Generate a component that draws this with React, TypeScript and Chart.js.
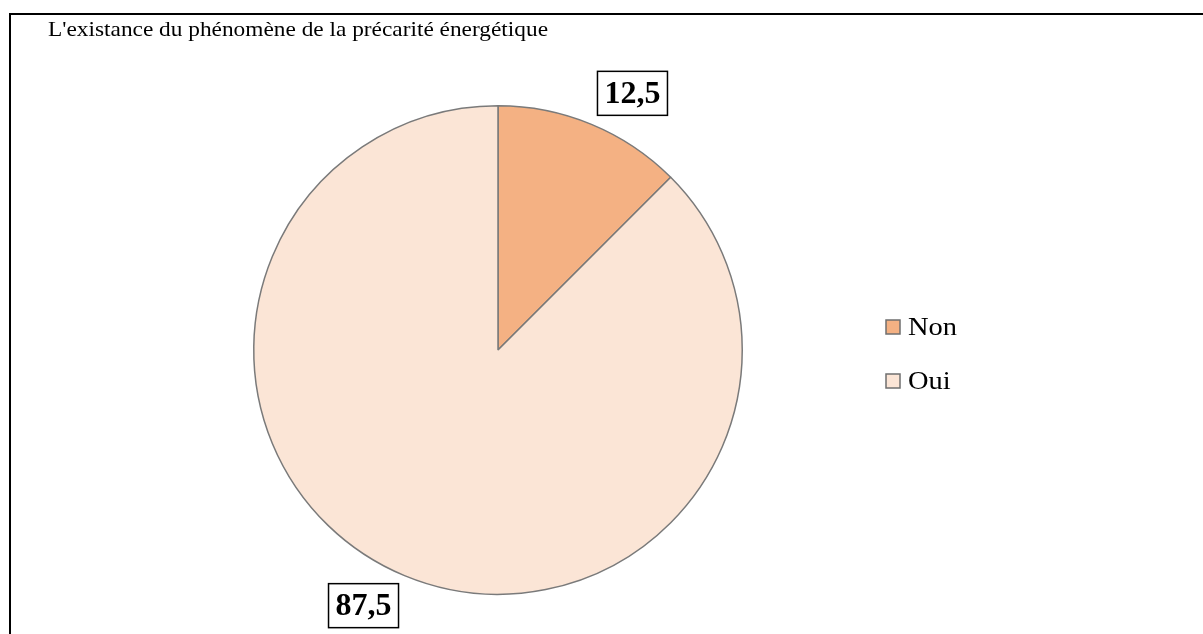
import React, { useEffect, useRef } from "react";
import { Chart, registerables } from "chart.js";

Chart.register(...registerables);

const categories = ["Non", "Oui"];
const values = [12.5, 87.5];
const valueLabels = ["12,5", "87,5"];
const colors = ["#F4B183", "#FBE5D6"];
const titleText = "L'existance du phénomène de la précarité énergétique";

const SERIF = "'Liberation Serif', 'Times New Roman', serif";

function stretchedText(ctx: any, txt: string, x: number, y: number, sx: number) {
  ctx.save();
  ctx.translate(x, y);
  ctx.scale(sx, 1);
  ctx.fillText(txt, 0, 0);
  ctx.restore();
}

const decorPlugin = {
  id: "decor",
  beforeDraw(chart: any) {
    const ctx = chart.ctx;
    ctx.save();
    ctx.fillStyle = "#ffffff";
    ctx.fillRect(0, 0, chart.width, chart.height);
    ctx.fillStyle = "#000000";
    ctx.fillRect(9, 13, chart.width - 9, 2);
    ctx.fillRect(9, 13, 2, chart.height - 13);
    ctx.font = "22px " + SERIF;
    ctx.textBaseline = "alphabetic";
    ctx.textAlign = "left";
    const tw = ctx.measureText(titleText).width;
    stretchedText(ctx, titleText, 48, 36, 500 / tw);
    ctx.restore();
  },
  afterDraw(chart: any) {
    const ctx = chart.ctx;
    const meta = chart.getDatasetMeta(0);
    ctx.save();
    // legend
    ctx.font = "26px " + SERIF;
    ctx.textBaseline = "middle";
    ctx.textAlign = "left";
    const sx = 49 / ctx.measureText(categories[0]).width;
    categories.forEach((c, i) => {
      const y = 327 + i * 54;
      ctx.fillStyle = colors[i];
      ctx.fillRect(886, y - 7, 14, 14);
      ctx.strokeStyle = "#6f6f6f";
      ctx.lineWidth = 1.5;
      ctx.strokeRect(886, y - 7, 14, 14);
      ctx.fillStyle = "#000";
      stretchedText(ctx, c, 908, y + 1, sx);
    });
    // data labels
    ctx.font = "bold 32px " + SERIF;
    meta.data.forEach((arc: any, i: number) => {
      const mid = (arc.startAngle + arc.endAngle) / 2;
      const ex = arc.x + Math.cos(mid) * arc.outerRadius;
      const ey = arc.y + Math.sin(mid) * arc.outerRadius;
      const txt = valueLabels[i];
      const tw = ctx.measureText(txt).width;
      const bw = tw + 14;
      const bh = 44;
      const dx = Math.cos(mid) >= 0 ? 1 : -1;
      const dy = Math.sin(mid) >= 0 ? 1 : -1;
      const cx = dx > 0 ? ex + 6 : ex - 6 - bw;
      const cy = dy > 0 ? ey + 8 : ey - 9 - bh;
      ctx.fillStyle = "#fff";
      ctx.fillRect(cx, cy, bw, bh);
      ctx.strokeStyle = "#000";
      ctx.lineWidth = 1.5;
      ctx.strokeRect(cx, cy, bw, bh);
      ctx.fillStyle = "#000";
      ctx.textAlign = "center";
      ctx.textBaseline = "middle";
      ctx.fillText(txt, cx + bw / 2, cy + bh / 2 + 1);
    });
    ctx.restore();
  },
};

export default function App() {
  const ref = useRef<HTMLCanvasElement>(null);
  useEffect(() => {
    document.body.style.margin = "0";
    const chart = new Chart(ref.current as HTMLCanvasElement, {
      type: "pie",
      data: {
        labels: categories,
        datasets: [
          {
            data: values,
            backgroundColor: colors,
            borderColor: "#7a7a7a",
            borderWidth: 1.5,
          },
        ],
      },
      options: {
        animation: false,
        responsive: false,
        layout: { padding: { top: 105, bottom: 39, left: 253, right: 460 } },
        plugins: {
          legend: { display: false },
          tooltip: { enabled: false },
          title: { display: false },
        },
      },
      plugins: [decorPlugin],
    });
    return () => chart.destroy();
  }, []);
  return (
    <div style={{ width: 1203, height: 634 }}>
      <canvas ref={ref} width={1203} height={634} />
    </div>
  );
}
